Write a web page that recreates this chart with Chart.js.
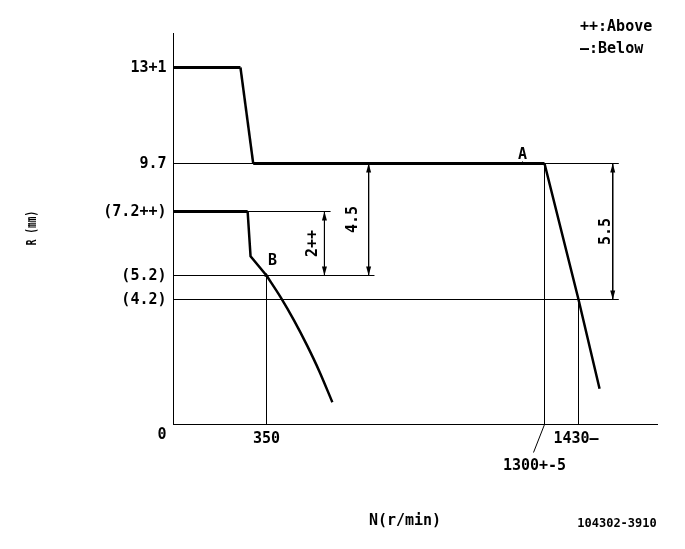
<!DOCTYPE html>
<html>
<head>
<meta charset="utf-8">
<script src="https://cdn.jsdelivr.net/npm/chart.js@4/dist/chart.umd.min.js"></script>
<style>
  body { margin: 0; background: #fff; }
  canvas { display: block; }
</style>
</head>
<body>
<canvas id="chart" width="685" height="549"></canvas>
<script>
// governor curves, N in r/min, R in mm
const fullLoadN = [0, 252, 300, 1300, 1430, 1510];
const fullLoadR = [13, 13, 9.7, 9.7, 4.2, 1.2];
const idleN = [0, 279, 290, 350];
const idleR = [7.2, 7.2, 5.8, 5.2];
const droopN = [350, 398, 444, 489, 530, 575];
const droopR = [5.2, 4.3, 3.5, 2.65, 1.8, 0.75];

const yTickValues = [13, 9.7, 7.2, 5.2, 4.2, 0];
const yTickLabels = ['13+1', '9.7', '(7.2++)', '(5.2)', '(4.2)', '0'];
const xTickValues = [350, 1300, 1430];
const xTickLabels = ['350', '1300+-5', '1430—'];

// horizontal reference lines: level and the speed where each stops
const levelR = [9.7, 7.2, 5.2, 4.2];
const levelEndN = [1583, 569, 719, 1583];
// vertical reference lines: speed and the level where each stops
const speedN = [350, 1300, 1430];
const speedTopR = [5.2, 9.7, 4.2];

// dimension arrows
const dimN = [548, 699, 1560];
const dimFrom = [7.2, 9.7, 9.7];
const dimTo = [5.2, 5.2, 4.2];
const dimLabels = ['2++', '4.5', '5.5'];

// marked points
const markN = [1225, 350];
const markR = [9.7, 5.2];
const markLabels = ['A', 'B'];

// the drawing is schematic: each axis is piecewise linear between the labelled values
const knots = {
  x: { values: [0, 350, 1300, 1430, 1730], fracs: [0, 93, 371, 405, 484].map(p => p / 484) },
  y: { values: [0, 4.2, 5.2, 7.2, 9.7, 13, 14.2], fracs: [0, 125, 149, 213, 261, 357, 391].map(p => p / 391) }
};

class SchematicScale extends Chart.LinearScale {
  getPixelForValue(v) {
    if (v === null || isNaN(v)) return NaN;
    const { values, fracs } = knots[this.axis];
    let i = 1;
    while (i < values.length - 1 && v > values[i]) i++;
    const d = fracs[i - 1] + (v - values[i - 1]) / (values[i] - values[i - 1]) * (fracs[i] - fracs[i - 1]);
    return this.getPixelForDecimal(d);
  }
  getValueForPixel(p) {
    const { values, fracs } = knots[this.axis];
    const d = this.getDecimalForPixel(p);
    let i = 1;
    while (i < fracs.length - 1 && d > fracs[i]) i++;
    return values[i - 1] + (d - fracs[i - 1]) / (fracs[i] - fracs[i - 1]) * (values[i] - values[i - 1]);
  }
}
SchematicScale.id = 'schematic';
SchematicScale.defaults = {};
Chart.register(SchematicScale);

const FONT = 'bold 15px "DejaVu Sans Mono", monospace';

function pts(xs, ys) {
  return xs.map((n, i) => ({ x: n, y: ys[i] }));
}
function thin(data) {
  return { data, borderColor: '#000', borderWidth: 1, pointRadius: 0, tension: 0 };
}
function curve(data) {
  return {
    data, borderColor: '#000', pointRadius: 0, tension: 0,
    segment: { borderWidth: c => c.p0.parsed.y === c.p1.parsed.y ? 3 : 2.5 }
  };
}

function text(ctx, str, x, y, align, font, rotate, sx) {
  ctx.save();
  ctx.font = font || FONT;
  ctx.textAlign = align || 'center';
  ctx.textBaseline = 'middle';
  ctx.translate(x, y);
  if (rotate) ctx.rotate(-Math.PI / 2);
  if (sx) ctx.scale(sx, 1);
  ctx.fillText(str, 0, 0);
  ctx.restore();
}
function arrowHead(ctx, x, tipY, len) {
  ctx.beginPath();
  ctx.moveTo(x, tipY);
  ctx.lineTo(x - 2.5, tipY + len);
  ctx.lineTo(x + 2.5, tipY + len);
  ctx.closePath();
  ctx.fill();
}

const dimLabelGap = [11, 16, 7];

const annotations = {
  id: 'annotations',
  afterDraw(chart) {
    const { ctx, chartArea: area, scales: { x, y } } = chart;
    ctx.save();
    ctx.fillStyle = '#000';
    ctx.strokeStyle = '#000';
    ctx.lineWidth = 1;

    yTickValues.forEach((v, i) => {
      const py = y.getPixelForValue(v) + (v === 0 ? 11 : 1);
      text(ctx, yTickLabels[i], area.left - 7, py, 'right');
    });

    const p350 = x.getPixelForValue(xTickValues[0]);
    text(ctx, xTickLabels[0], p350, area.bottom + 15);
    const p1300 = x.getPixelForValue(xTickValues[1]);
    ctx.beginPath();
    ctx.moveTo(p1300, area.bottom);
    ctx.lineTo(p1300 - 11, area.bottom + 28);
    ctx.stroke();
    text(ctx, xTickLabels[1], p1300 - 10, area.bottom + 42);
    const p1430 = x.getPixelForValue(xTickValues[2]);
    text(ctx, xTickLabels[2], p1430 - 25, area.bottom + 15, 'left');

    dimN.forEach((n, i) => {
      const px = x.getPixelForValue(n);
      const top = y.getPixelForValue(dimFrom[i]);
      const bot = y.getPixelForValue(dimTo[i]);
      arrowHead(ctx, px, top, 9);
      arrowHead(ctx, px, bot, -9);
      text(ctx, dimLabels[i], px - dimLabelGap[i], (top + bot) / 2, 'center', FONT, true);
    });

    const ax = x.getPixelForValue(markN[0]), ay = y.getPixelForValue(markR[0]);
    text(ctx, markLabels[0], ax, ay - 8);
    const bx = x.getPixelForValue(markN[1]), by = y.getPixelForValue(markR[1]);
    text(ctx, markLabels[1], bx + 6, by - 14);

    text(ctx, 'R (mm)', 32, 228, 'center', 'bold 14px "DejaVu Sans Mono", monospace', true, 0.68);
    text(ctx, 'N(r/min)', 405, 521);
    text(ctx, '104302-3910', 617, 524, 'center', 'bold 12px "DejaVu Sans Mono", monospace');
    text(ctx, '++:Above', 580, 27, 'left');
    text(ctx, '—:Below', 580, 49, 'left');
    ctx.restore();
  }
};

const datasets = [];
levelR.forEach((r, i) => datasets.push(thin([{ x: 0, y: r }, { x: levelEndN[i], y: r }])));
speedN.forEach((n, i) => datasets.push(thin([{ x: n, y: 0 }, { x: n, y: speedTopR[i] }])));
dimN.forEach((n, i) => datasets.push(thin([{ x: n, y: dimFrom[i] }, { x: n, y: dimTo[i] }])));
datasets.push(curve(pts(fullLoadN, fullLoadR)));
datasets.push(curve(pts(idleN, idleR)));
datasets.push({
  data: pts(droopN, droopR), borderColor: '#000', borderWidth: 2.5, pointRadius: 0,
  cubicInterpolationMode: 'monotone'
});
datasets.push({
  data: pts(markN, markR), showLine: false, pointStyle: 'triangle', pointRadius: 2.5,
  pointBackgroundColor: '#000', pointBorderColor: '#000', pointBorderWidth: 0
});

const axisOpts = {
  type: 'schematic',
  grid: { display: false, drawTicks: false },
  border: { display: true, color: '#000', width: 1 },
  ticks: { display: false }
};

new Chart(document.getElementById('chart'), {
  type: 'line',
  data: { datasets },
  options: {
    responsive: false,
    devicePixelRatio: 1,
    animation: false,
    layout: { padding: { left: 173.5, top: 33.5, right: 27.5, bottom: 124.5 } },
    scales: {
      x: { ...axisOpts, position: 'bottom', min: 0, max: 1730 },
      y: { ...axisOpts, position: 'left', min: 0, max: 14.2 }
    },
    plugins: { legend: { display: false }, tooltip: { enabled: false } }
  },
  plugins: [annotations]
});
</script>
</body>
</html>
